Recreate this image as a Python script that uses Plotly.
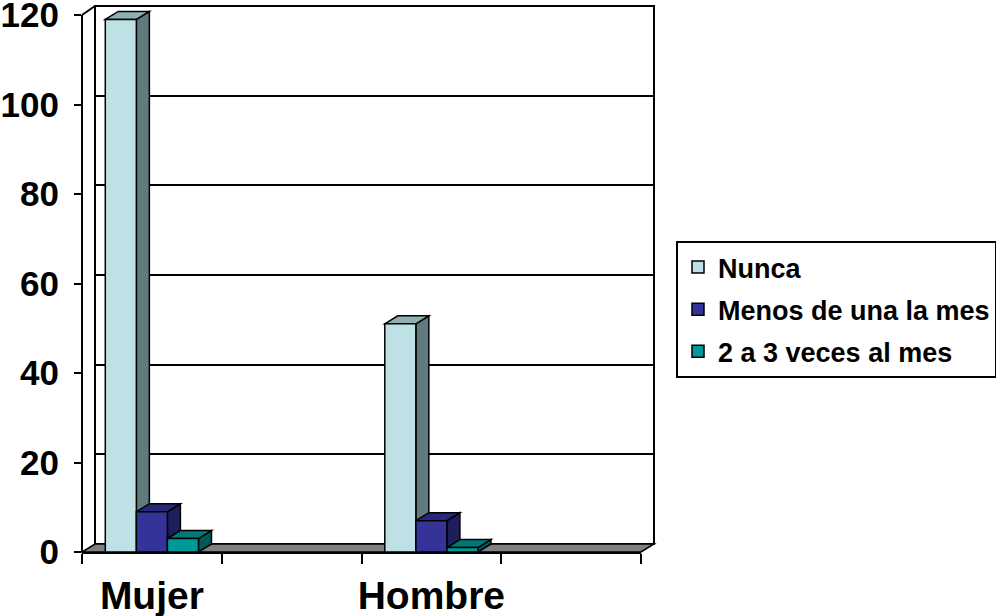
import plotly.graph_objects as go

# ---- data -------------------------------------------------------------
categories = ["Mujer", "Hombre"]
series_names = ["Nunca", "Menos de una la mes", "2 a 3 veces al mes"]
nunca = [119, 51]
menos_una = [9, 7]
dos_tres = [3, 1]
y_ticks = [0, 20, 40, 60, 80, 100, 120]

series_values = [nunca, menos_una, dos_tres]
front_colors = ["#BDE1E4", "#333399", "#009999"]
side_colors = ["#5F7B7E", "#1E1E5A", "#005A5A"]
top_colors = ["#8FB0B3", "#28287A", "#007878"]

# ---- geometry of the pseudo-3D box (pixels) ---------------------------
FIG_W, FIG_H = 996, 616
L, R, T, B = 82, 654, 6, 552          # plot area box
PW, PH = R - L, B - T
DX, DY = 13, 8                        # depth offset of the back wall
FRONT_R = R - DX                      # right end of the front axis
FRONT_TOP = 15                        # pixel row of the top tick on the front axis

y_max = max(y_ticks)
px_per_unit = (B - FRONT_TOP) / y_max
front_range_top = PH / px_per_unit

slots = 2 * len(categories)           # every category is followed by an empty slot
xpos = [2 * i for i in range(len(categories))]
x_range = [-0.5, slots - 0.5]
px_per_slot = (FRONT_R - L) / slots
bargap = 1 / 3
bar_w = (1 - bargap) / len(series_names)

ddx = DX / px_per_slot                # depth offset in front-axis data units
ddy = DY / px_per_unit

FONT = "Liberation Sans, Arial, sans-serif"


def px_x(p):
    return (p - L) / PW


def px_y(p):
    return (B - p) / PH


fig = go.Figure()

# placeholder so the back-wall subplot exists
fig.add_trace(go.Scatter(x=[None], y=[None], xaxis="x", yaxis="y",
                         showlegend=False, hoverinfo="skip"))

for k, (name, vals, col) in enumerate(zip(series_names, series_values, front_colors)):
    fig.add_trace(go.Bar(
        x=xpos, y=vals, name=name, xaxis="x2", yaxis="y2",
        legendgroup=name,
        width=bar_w, offset=-(1 - bargap) / 2 + k * bar_w,
        marker=dict(color=col, line=dict(color="black", width=1.5)),
    ))

shapes = []
# back wall
shapes.append(dict(type="rect", xref="paper", yref="paper",
                   x0=px_x(L + DX), x1=1, y0=px_y(B - DY), y1=1,
                   fillcolor="white", line=dict(color="black", width=2),
                   layer="below"))
# floor
shapes.append(dict(type="path", xref="paper", yref="paper",
                   path=(f"M 0,0 L {px_x(FRONT_R)},0 L 1,{px_y(B - DY)} "
                         f"L {px_x(L + DX)},{px_y(B - DY)} Z"),
                   fillcolor="#808080", line=dict(color="black", width=1.5),
                   layer="below"))
# side wall top edge
shapes.append(dict(type="line", xref="paper", yref="paper",
                   x0=0, y0=px_y(FRONT_TOP), x1=px_x(L + DX), y1=1,
                   line=dict(color="black", width=2), layer="below"))
# front value axis line
shapes.append(dict(type="line", xref="paper", yref="paper",
                   x0=0, y0=0, x1=0, y1=px_y(FRONT_TOP),
                   line=dict(color="black", width=2), layer="above"))

# side and top faces of each column
for ci, c in enumerate(xpos):
    for k in range(len(series_names)):
        v = series_values[k][ci]
        a = c - (1 - bargap) / 2 + k * bar_w
        b = a + bar_w
        shapes.append(dict(
            type="path", xref="x2", yref="y2", layer="between",
            path=f"M {b},0 L {b + ddx},{ddy} L {b + ddx},{v + ddy} L {b},{v} Z",
            fillcolor=side_colors[k], line=dict(color="black", width=1.5)))
        shapes.append(dict(
            type="path", xref="x2", yref="y2", layer="between",
            path=f"M {a},{v} L {a + ddx},{v + ddy} L {b + ddx},{v + ddy} L {b},{v} Z",
            fillcolor=top_colors[k], line=dict(color="black", width=1.5)))

fig.update_layout(
    template="none",
    width=FIG_W, height=FIG_H,
    margin=dict(l=L, r=FIG_W - R, t=T, b=FIG_H - B, pad=0, autoexpand=False),
    paper_bgcolor="white", plot_bgcolor="rgba(0,0,0,0)",
    font=dict(family=FONT, color="black"),
    barmode="overlay",
    shapes=shapes,
    showlegend=True,
    legend=dict(
        x=px_x(676), y=px_y(241), xanchor="left", yanchor="top",
        bgcolor="white", bordercolor="black", borderwidth=2,
        font=dict(family=FONT, size=27, weight="bold", color="black"),
        traceorder="grouped", tracegroupgap=4,
    ),
    # back wall (gridlines)
    xaxis=dict(domain=[DX / PW, 1], range=x_range, visible=False,
               automargin=False, fixedrange=True),
    yaxis=dict(domain=[DY / PH, 1], range=[0, y_max], anchor="x",
               tickmode="array", tickvals=y_ticks, showticklabels=False,
               ticks="", showgrid=True, gridcolor="black", gridwidth=1.5,
               zeroline=False, showline=False, automargin=False,
               fixedrange=True),
    # front axes
    xaxis2=dict(domain=[0, (FRONT_R - L) / PW], range=x_range, anchor="y2",
                tickmode="array", tickvals=xpos, ticktext=categories,
                ticks="", showline=True, linecolor="black", linewidth=2,
                showgrid=False, zeroline=False, ticklabelstandoff=8,
                ticklabeloverflow="allow",
                tickfont=dict(family=FONT, size=39, weight="bold"),
                minor=dict(tickmode="array",
                           tickvals=[s - 0.5 for s in range(slots + 1)],
                           ticks="outside", ticklen=10, tickwidth=2,
                           tickcolor="black", showgrid=False),
                automargin=False, fixedrange=True),
    yaxis2=dict(domain=[0, 1], range=[0, front_range_top], anchor="x2",
                tickmode="array", tickvals=y_ticks, ticks="outside",
                ticklen=7, tickwidth=2, tickcolor="black",
                showline=False, showgrid=False, zeroline=False,
                ticklabelstandoff=8, ticklabeloverflow="allow",
                tickfont=dict(family=FONT, size=35, weight="bold"),
                automargin=False, fixedrange=True),
)

fig.write_html("out.html")
